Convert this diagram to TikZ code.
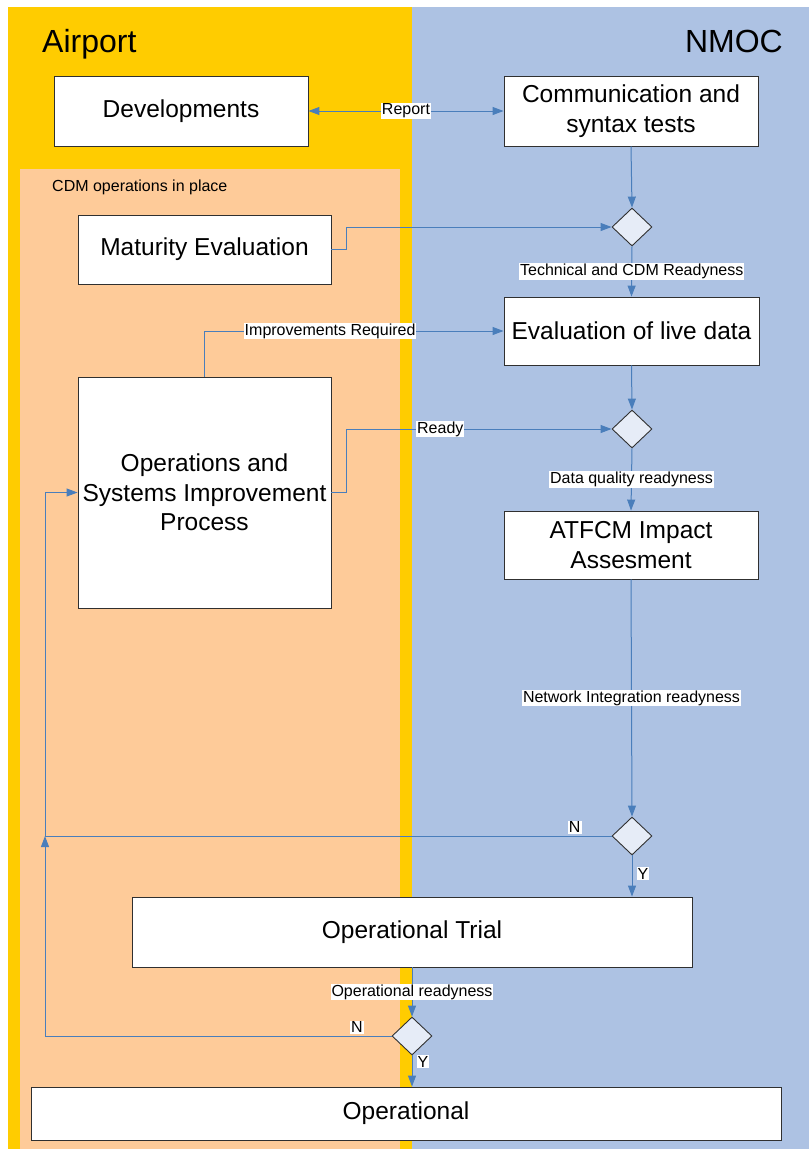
\documentclass[tikz,border=0pt]{standalone}
\usepackage{fontspec}
\setmainfont{Liberation Sans}
\usetikzlibrary{arrows.meta,shapes.geometric}
\definecolor{laneY}{HTML}{FFCC00}
\definecolor{laneB}{HTML}{ADC2E3}
\definecolor{laneP}{HTML}{FECB99}
\definecolor{conn}{HTML}{4A7EBB}
\definecolor{dfill}{HTML}{E6ECF7}
\definecolor{bord}{HTML}{303030}
\tikzset{
  box/.style={draw=bord, line width=0.9pt, fill=white, inner sep=2pt, align=center,
    font=\fontsize{24.5}{29.5}\selectfont},
  dec/.style={draw=bord, line width=0.9pt, fill=dfill, shape=diamond, inner sep=0pt,
    minimum width=40pt, minimum height=38pt, aspect=1.05},
  wire/.style={draw=conn, line width=1pt},
  tip/.tip={Triangle[length=11pt,width=8pt]},
  arr/.style={wire, -tip},
  lbl/.style={fill=white, inner sep=1pt, font=\fontsize{16}{18}\selectfont, text=black},
  lanetitle/.style={inner sep=0pt, font=\fontsize{32}{36}\selectfont},
}
\begin{document}
\begin{tikzpicture}[x=1pt,y=-1pt]
\useasboundingbox (0,0) rectangle (809,1149);
% lanes
\fill[white] (0,0) rectangle (809,1149);
\fill[laneY] (8,7) rectangle (412,1149);
\fill[laneB] (412,7) rectangle (809,1149);
\fill[laneP] (20,169) rectangle (400,1149);
\node[lanetitle, anchor=base west] (tAir) at (42,52) {Airport};
\node[lanetitle, anchor=base east] (tNM) at (783,52) {NMOC};
\node[anchor=base west, inner sep=0pt, font=\fontsize{16}{18}\selectfont] (tCDM) at (52,191) {CDM operations in place};
% boxes
\node[box, minimum width=254pt, minimum height=70pt] (dev) at (181,111) {Developments};
\node[box, minimum width=254pt, minimum height=70pt] (comm) at (631,111) {Communication and\\syntax tests};
\node[box, minimum width=253pt, minimum height=69pt] (mat) at (204.5,249.5) {Maturity Evaluation};
\node[box, minimum width=255pt, minimum height=68pt] (eval) at (631.5,331) {Evaluation of live data};
\node[box, minimum width=253pt, minimum height=231pt] (ops) at (204.5,492.5) {Operations and\\Systems Improvement\\Process};
\node[box, minimum width=254pt, minimum height=68pt] (atf) at (631,545) {ATFCM Impact\\Assesment};
\node[box, minimum width=560pt, minimum height=70pt] (trial) at (412,932) {Operational Trial};
\node[box, minimum width=750pt, minimum height=53pt] (oper) at (406,1113.5) {Operational};
% decisions
\node[dec] (d1) at (632,227) {};
\node[dec] (d2) at (632,429) {};
\node[dec] (d3) at (632,836) {};
\node[dec] (d4) at (412,1036) {};
\coordinate (loopx) at (45,0);
% connectors
\draw[wire, tip-tip] (dev.east) -- node[lbl] {Report} (comm.west);
\draw[arr] (comm.south) -- (d1.north);
\draw[arr] (mat.east) -- ++(15,0) |- (d1.west);
\draw[arr] (d1.south) -- node[lbl] {Technical and CDM Readyness} (eval.north);
\draw[arr] (ops.north) |- node[lbl, pos=0.71] {Improvements Required} (eval.west);
\draw[arr] (eval.south) -- (d2.north);
\draw[arr] (ops.east) -- ++(15,0) |- node[lbl, pos=0.677] {Ready} (d2.west);
\draw[arr] (d2.south) -- node[lbl] {Data quality readyness} (atf.north);
\draw[arr] (atf.south) -- node[lbl] {Network Integration readyness} (d3.north);
\draw[arr] (d3.south) -- node[lbl, right=4pt, pos=0.45] {Y} (d3.south |- trial.north);
\draw[arr] (d3.west) -- node[lbl, above=2pt, pos=0.065] {N} (d3.west -| loopx) -- (loopx |- ops.west) -- (ops.west);
\draw[arr] (trial.south) -- node[lbl] {Operational readyness} (d4.north);
\draw[arr] (d4.west) -- node[lbl, above=2pt, pos=0.1] {N} (d4.west -| loopx) -- (loopx |- d3.west);
\draw[arr] (d4.south) -- node[lbl, right=4pt, pos=0.2] {Y} (d4.south |- oper.north);
\end{tikzpicture}
\end{document}
